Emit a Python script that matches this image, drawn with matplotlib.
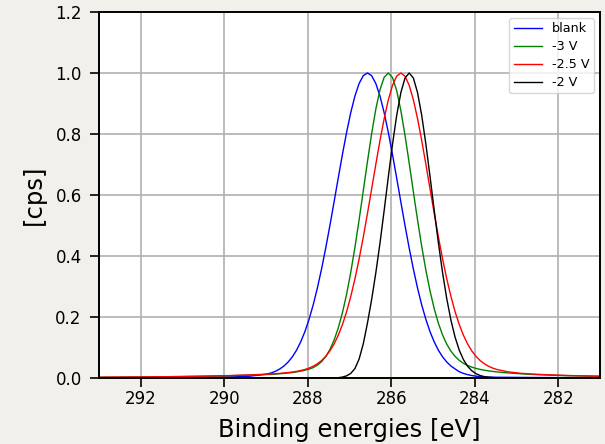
import matplotlib
matplotlib.use("Agg")
import matplotlib.pyplot as plt
import numpy as np

# binding energy axis [eV]
energy = [293.0, 292.5, 292.0, 291.5, 291.0, 290.6, 290.2, 289.8, 289.4, 289.0,
          288.87, 288.77, 288.67, 288.57, 288.47, 288.37, 288.27, 288.17, 288.07, 287.97,
          287.87, 287.77, 287.67, 287.57, 287.47, 287.37, 287.27, 287.17, 287.07, 286.97,
          286.87, 286.77, 286.67, 286.57, 286.47, 286.37, 286.27, 286.17, 286.07, 285.97,
          285.87, 285.77, 285.67, 285.57, 285.47, 285.37, 285.27, 285.17, 285.07, 284.97,
          284.87, 284.77, 284.67, 284.57, 284.47, 284.37, 284.27, 284.17, 284.07, 283.97,
          283.87, 283.77, 283.67, 283.57, 283.47,
          283.2, 282.9, 282.6, 282.2, 281.8, 281.4, 281.0]

# normalised intensities
blank = [0.0010, 0.0011, 0.0014, 0.0016, 0.0020, 0.0024, 0.0029, 0.0037, 0.0057, 0.0122,
         0.0169, 0.0222, 0.0296, 0.0393, 0.0523, 0.0692, 0.0908, 0.1180, 0.1514, 0.1919,
         0.2395, 0.2947, 0.3570, 0.4258, 0.4996, 0.5770, 0.6555, 0.7325, 0.8050, 0.8701,
         0.9245, 0.9656, 0.9913, 1.0, 0.9913, 0.9656, 0.9245, 0.8701, 0.8050, 0.7325,
         0.6555, 0.5770, 0.4996, 0.4258, 0.3570, 0.2947, 0.2395, 0.1919, 0.1514, 0.1180,
         0.0908, 0.0692, 0.0523, 0.0393, 0.0296, 0.0205, 0.0150, 0.0110, 0.0080, 0.0060,
         0.0046, 0.0037, 0.0031, 0.0027, 0.0024,
         0.0022, 0.0019, 0.0017, 0.0014, 0.0012, 0.0011, 0.0010]

m3v = [0.0024, 0.0028, 0.0033, 0.0039, 0.0047, 0.0055, 0.0065, 0.0078, 0.0095, 0.0115,
       0.0120, 0.0130, 0.0140, 0.0150, 0.0165, 0.0180, 0.0200, 0.0225, 0.0255, 0.0290,
       0.0340, 0.0420, 0.0535, 0.0701, 0.0932, 0.1239, 0.1636, 0.2136, 0.2744, 0.3462,
       0.4283, 0.5185, 0.6137, 0.7096, 0.8009, 0.8814, 0.9450, 0.9859, 1.0, 0.9851,
       0.9425, 0.8770, 0.7952, 0.7043, 0.6102, 0.5178, 0.4312, 0.3530, 0.2847, 0.2268,
       0.1791, 0.1409, 0.1109, 0.0880, 0.0707, 0.0577, 0.0480, 0.0410, 0.0356, 0.0314,
       0.0282, 0.0256, 0.0234, 0.0216, 0.0199,
       0.0166, 0.0138, 0.0116, 0.0094, 0.0077, 0.0065, 0.0056]

m25v = [0.0026, 0.0030, 0.0035, 0.0041, 0.0049, 0.0058, 0.0068, 0.0082, 0.0100, 0.0125,
        0.0133, 0.0141, 0.0152, 0.0164, 0.0178, 0.0195, 0.0217, 0.0244, 0.0279, 0.0325,
        0.0385, 0.0466, 0.0571, 0.0708, 0.0887, 0.1113, 0.1398, 0.1748, 0.2170, 0.2671,
        0.3248, 0.3901, 0.4620, 0.5393, 0.6195, 0.7003, 0.7785, 0.8503, 0.9120, 0.9595,
        0.9897, 1.0, 0.9897, 0.9595, 0.9120, 0.8503, 0.7785, 0.7003, 0.6195, 0.5393,
        0.4620, 0.3901, 0.3248, 0.2671, 0.2170, 0.1748, 0.1398, 0.1113, 0.0887, 0.0708,
        0.0571, 0.0466, 0.0385, 0.0325, 0.0279,
        0.0201, 0.0155, 0.0127, 0.0102, 0.0083, 0.0069, 0.0058]

m2v = [0, 0, 0, 0, 0, 0, 0, 0, 0, 0,
       0, 0, 0, 0, 0, 0, 0, 0, 0, 0,
       0, 0, 0, 0, 0, 0, 0.001, 0.003, 0.007, 0.015,
       0.031, 0.062, 0.112, 0.180, 0.257, 0.3445, 0.4422, 0.5491, 0.6595, 0.7661,
       0.8608, 0.9356, 0.9835, 1.0, 0.9835, 0.9356, 0.8608, 0.7661, 0.6595, 0.5491,
       0.4422, 0.3445, 0.2596, 0.1892, 0.1334, 0.0909, 0.0600, 0.0383, 0.0236, 0.0141,
       0.0081, 0.0045, 0.0025, 0.0013, 0.0006,
       0, 0, 0, 0, 0, 0, 0]

labels = ["blank", "-3 V", "-2.5 V", "-2 V"]
colors = ["b", "g", "r", "k"]

fig = plt.figure(figsize=(6.05, 4.44), dpi=100, facecolor="#f2f0eb")
ax = fig.add_axes([99 / 605, 1 - 378 / 444, 501 / 605, 366 / 444])
ax.set_facecolor("white")

x = np.array(energy)
for y, lab, c in zip([blank, m3v, m25v, m2v], labels, colors):
    ax.plot(x, np.array(y), color=c, lw=1.0, label=lab)

ax.set_xlim(293, 281)
ax.set_ylim(0, 1.2)
ax.set_xticks([292, 290, 288, 286, 284, 282])
ax.set_yticks([0.0, 0.2, 0.4, 0.6, 0.8, 1.0, 1.2])
ax.grid(True, color="#b0b0b0", lw=1.2)
ax.tick_params(labelsize=12, length=6.2, width=1.2)
ax.tick_params(axis="y", pad=6.3)
ax.tick_params(axis="x", pad=2.8)
for s in ax.spines.values():
    s.set_linewidth(1.4)

ax.set_xlabel("Binding energies [eV]", fontsize=17.5, labelpad=7)
ax.set_ylabel("[cps]", fontsize=17.5, labelpad=6.5)
ax.legend(loc="upper right", fontsize=9.2, handlelength=2.2,
          labelspacing=0.38, borderpad=0.32)

fig.savefig("out.png", dpi=100, facecolor=fig.get_facecolor())
